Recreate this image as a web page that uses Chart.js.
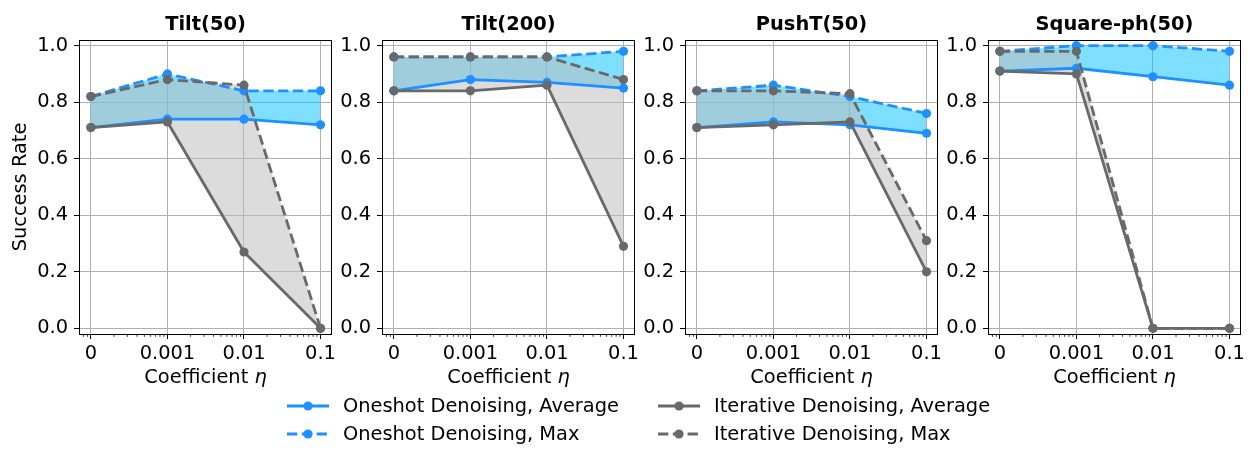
<!DOCTYPE html>
<html>
<head>
<meta charset="utf-8">
<script src="https://cdn.jsdelivr.net/npm/chart.js@4/dist/chart.umd.min.js"></script>
<style>
html,body{margin:0;padding:0;background:#fff;width:1255px;height:456px;overflow:hidden;font-family:"DejaVu Sans",sans-serif;}
.pc{position:absolute;top:0;width:344px;height:395px;}
.lg{position:absolute;font-size:19.4px;color:#000;white-space:nowrap;line-height:22px;}
.lg svg{position:absolute;}
</style>
</head>
<body>
<div class="pc" style="left:0px"><canvas id="c0"></canvas></div>
<div class="pc" style="left:303px"><canvas id="c1"></canvas></div>
<div class="pc" style="left:606px"><canvas id="c2"></canvas></div>
<div class="pc" style="left:909px"><canvas id="c3"></canvas></div>
<div id="legend"></div>
<script>
// ---------- data ----------
const taskTitles = ['Tilt(50)', 'Tilt(200)', 'PushT(50)', 'Square-ph(50)'];
const etaLabels = ['0', '0.001', '0.01', '0.1'];
// eta = 0 is plotted at 1e-4 on the log axis
const etaValues = [0.0001, 0.001, 0.01, 0.1];
const yTicks = [0, 0.2, 0.4, 0.6, 0.8, 1.0];

const oneshotAvg = [
  [0.71, 0.74, 0.74, 0.72],
  [0.84, 0.88, 0.87, 0.85],
  [0.71, 0.73, 0.72, 0.69],
  [0.91, 0.92, 0.89, 0.86]
];
const oneshotMax = [
  [0.82, 0.90, 0.84, 0.84],
  [0.96, 0.96, 0.96, 0.98],
  [0.84, 0.86, 0.82, 0.76],
  [0.98, 1.00, 1.00, 0.98]
];
const iterAvg = [
  [0.71, 0.73, 0.27, 0.00],
  [0.84, 0.84, 0.86, 0.29],
  [0.71, 0.72, 0.73, 0.20],
  [0.91, 0.90, 0.00, 0.00]
];
const iterMax = [
  [0.82, 0.88, 0.86, 0.00],
  [0.96, 0.96, 0.96, 0.88],
  [0.84, 0.84, 0.83, 0.31],
  [0.98, 0.98, 0.00, 0.00]
];
const seriesNames = ['Oneshot Denoising, Average', 'Oneshot Denoising, Max', 'Iterative Denoising, Average', 'Iterative Denoising, Max'];

// ---------- styles ----------
const FONT = 'DejaVu Sans';
const FS = 19.4;
const BLUE = '#1e90ff';
const GRAY = '#696969';
const BLUE_FILL = 'rgba(0,191,255,0.5)';
const GRAY_FILL = 'rgba(189,189,189,0.53)';
const LW = 2.8;
const DASH = [10.3, 4.5];
const PR = 4.6;

const frameAndMinor = {
  id: 'frameAndMinor',
  afterDraw(chart) {
    const ctx = chart.ctx;
    const a = chart.chartArea;
    const xs = chart.scales.x;
    ctx.save();
    // minor log ticks
    ctx.strokeStyle = '#000';
    ctx.lineWidth = 0.8;
    const lo = Math.log10(xs.min), hi = Math.log10(xs.max);
    for (let n = -6; n <= 0; n++) {
      for (let k = 2; k <= 9; k++) {
        const v = k * Math.pow(10, n);
        const lv = Math.log10(v);
        if (lv <= lo || lv >= hi) continue;
        const px = xs.getPixelForValue(v);
        ctx.beginPath();
        ctx.moveTo(px, a.bottom);
        ctx.lineTo(px, a.bottom + 2.8);
        ctx.stroke();
      }
    }
    // frame
    ctx.lineWidth = 1;
    ctx.strokeRect(Math.round(a.left) + 0.5, Math.round(a.top) + 0.5, Math.round(a.right - a.left) - 1, Math.round(a.bottom - a.top));
    // x axis title with italic eta
    const cx = (a.left + a.right) / 2;
    const cy = 378;
    ctx.fillStyle = '#000';
    ctx.textBaseline = 'middle';
    ctx.textAlign = 'left';
    ctx.font = FS + 'px "' + FONT + '"';
    const t1 = 'Coefficient ';
    const w1 = ctx.measureText(t1).width;
    ctx.font = 'italic ' + FS + 'px "' + FONT + '"';
    const t2 = 'η';
    const w2 = ctx.measureText(t2).width;
    const x0 = cx - (w1 + w2) / 2;
    ctx.font = FS + 'px "' + FONT + '"';
    ctx.fillText(t1, x0, cy);
    ctx.font = 'italic ' + FS + 'px "' + FONT + '"';
    ctx.fillText(t2, x0 + w1, cy);
    ctx.restore();
  }
};

function lineDs(label, data, color, dashed, fill, bg) {
  return {
    label: label,
    data: etaValues.map((x, i) => ({x: x, y: data[i]})),
    borderColor: color,
    backgroundColor: bg || color,
    borderWidth: LW,
    borderDash: dashed ? DASH : [],
    borderJoinStyle: 'round',
    pointRadius: PR,
    pointHoverRadius: PR,
    pointBackgroundColor: color,
    pointBorderWidth: 0,
    fill: fill,
    tension: 0
  };
}

for (let t = 0; t < 4; t++) {
  const datasets = [
    lineDs(seriesNames[2], iterAvg[t], GRAY, false, '+1', GRAY_FILL),
    lineDs(seriesNames[3], iterMax[t], GRAY, true, false),
    lineDs(seriesNames[0], oneshotAvg[t], BLUE, false, '+1', BLUE_FILL),
    lineDs(seriesNames[1], oneshotMax[t], BLUE, true, false)
  ];
  new Chart(document.getElementById('c' + t), {
    type: 'line',
    data: {datasets: datasets},
    options: {
      responsive: true,
      maintainAspectRatio: false,
      animation: false,
      layout: {padding: {left: 0, right: 12, top: 0, bottom: 0}},
      plugins: {
        legend: {display: false},
        tooltip: {enabled: false},
        filler: {drawTime: 'beforeDatasetsDraw'},
        title: {
          display: true,
          text: taskTitles[t],
          fullSize: false,
          color: '#000',
          font: {family: FONT, size: FS, weight: 'bold', lineHeight: 1.2},
          padding: {top: 13.5, bottom: 3.2}
        }
      },
      scales: {
        x: {
          type: 'logarithmic',
          min: Math.pow(10, -4.15),
          max: Math.pow(10, -0.85),
          afterBuildTicks: s => { s.ticks = etaValues.map(v => ({value: v, major: true})); },
          afterFit: s => { s.height = 61; },
          grid: {color: '#b0b0b0', lineWidth: 1, tickColor: '#000', tickLength: 5, drawTicks: true},
          border: {display: false},
          ticks: {
            autoSkip: false,
            maxRotation: 0,
            padding: 3,
            color: '#000',
            font: {family: FONT, size: FS},
            callback: (v, i) => etaLabels[i]
          }
        },
        y: {
          type: 'linear',
          min: -0.02,
          max: 1.02,
          afterBuildTicks: s => { s.ticks = yTicks.map(v => ({value: v})); },
          afterFit: s => { s.width = 79; },
          grid: {color: '#b0b0b0', lineWidth: 1, tickColor: '#000', tickLength: 5, drawTicks: true},
          border: {display: false},
          ticks: {
            padding: 6,
            color: '#000',
            font: {family: FONT, size: FS},
            callback: v => v.toFixed(1)
          },
          title: {
            display: t === 0,
            text: 'Success Rate',
            color: '#000',
            font: {family: FONT, size: FS, lineHeight: 1.2},
            padding: {top: 9.5, bottom: 0}
          }
        }
      }
    },
    plugins: [frameAndMinor]
  });
}

// ---------- legend ----------
const legendItems = [
  {name: seriesNames[0], color: BLUE, dashed: false, col: 0, row: 0},
  {name: seriesNames[1], color: BLUE, dashed: true, col: 0, row: 1},
  {name: seriesNames[2], color: GRAY, dashed: false, col: 1, row: 0},
  {name: seriesNames[3], color: GRAY, dashed: true, col: 1, row: 1}
];
const colX = [287, 658];
const rowY = [405.5, 434];
const lg = document.getElementById('legend');
legendItems.forEach(it => {
  const d = document.createElement('div');
  d.className = 'lg';
  d.style.left = colX[it.col] + 'px';
  d.style.top = (rowY[it.row] - 11) + 'px';
  const dash = it.dashed ? 'stroke-dasharray="10.3 4.5"' : '';
  d.innerHTML = '<svg width="44" height="22" style="left:0;top:0">' +
    '<line x1="0" y1="11" x2="42" y2="11" stroke="' + it.color + '" stroke-width="2.8" ' + dash + '/>' +
    '<circle cx="21" cy="11" r="4.6" fill="' + it.color + '"/></svg>' +
    '<span style="position:absolute;left:56px;top:0">' + it.name + '</span>';
  lg.appendChild(d);
});
</script>
</body>
</html>
